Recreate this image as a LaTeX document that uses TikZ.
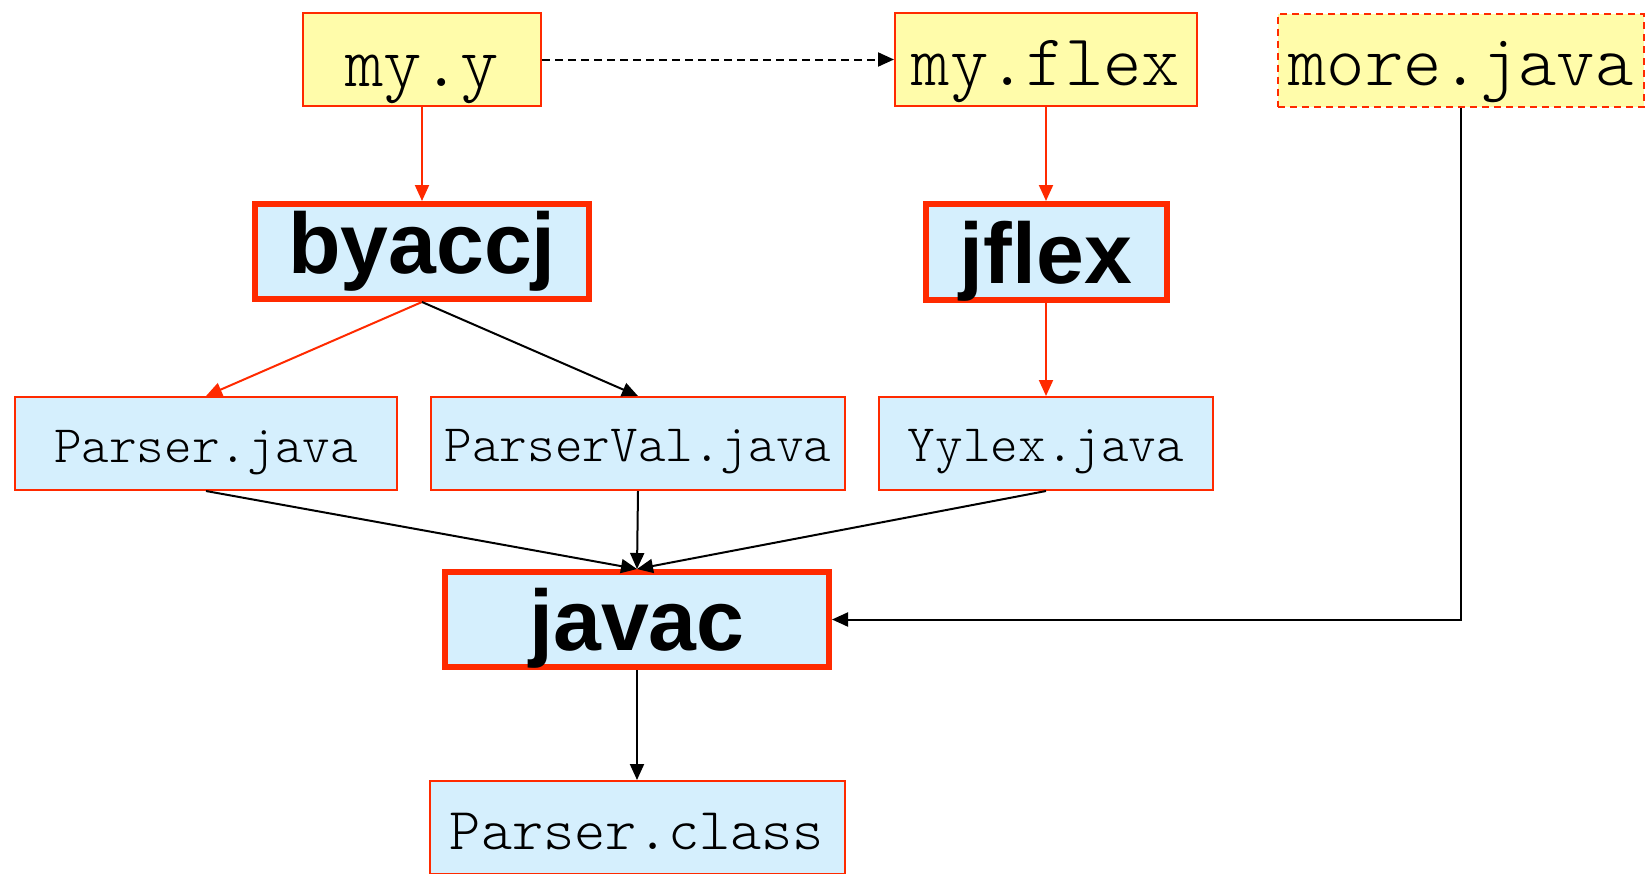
\documentclass[tikz,border=0pt]{standalone}
\usepackage{fontspec}
\usetikzlibrary{arrows.meta}
\newfontfamily\toolfont{Liberation Sans}
\newfontfamily\codefont{Latin Modern Mono Light}
\definecolor{boxred}{HTML}{FF2A00}
\definecolor{srcyellow}{HTML}{FFFCAA}
\definecolor{genblue}{HTML}{D5EFFD}

\begin{document}
\begin{tikzpicture}[x=1pt,y=-1pt,
  srcbox/.style={draw=boxred, fill=srcyellow, line width=2pt, inner sep=0pt,
    minimum height=93pt, text depth=0pt,
    font=\codefont\fontsize{73}{73}\selectfont},
  genbox/.style={draw=boxred, fill=genblue, line width=2pt, inner sep=0pt,
    minimum height=93pt, text depth=0pt,
    font=\codefont\fontsize{52.6}{52.6}\selectfont},
  toolbox/.style={draw=boxred, fill=genblue, line width=6pt, inner sep=0pt,
    minimum height=95pt, text depth=0pt,
    font=\toolfont\bfseries\fontsize{86}{86}\selectfont},
  link/.style={line width=2pt, -{Triangle[length=16pt,width=14pt]}},
  redlink/.style={link, draw=boxred},
  blacklink/.style={link, draw=black}]
\useasboundingbox (0,0) rectangle (1646,873);

% grammar and scanner sources
\node[srcbox, minimum width=238pt, text height=53pt] (my) at (422,59.5) {my.y};
\node[srcbox, minimum width=302pt, text height=52pt] (myflex) at (1046,59.5) {my.flex};
\node[srcbox, minimum width=366pt, text height=50pt, dash pattern=on 7pt off 5pt] (more) at (1461,60) {more.java};

% generator tools
\node[toolbox, minimum width=334pt, text height=43pt] (byaccj) at (422,251.5) {byaccj};
\node[toolbox, minimum width=241pt, minimum height=96pt, text height=62pt] (jflex) at (1046,252) {jflex};

% generated sources
\node[genbox, minimum width=382pt, text height=37pt] (parser) at (206,443.5) {Parser.java};
\node[genbox, minimum width=414pt, text height=36pt] (parserval) at (638,443.5) {ParserVal.java};
\node[genbox, minimum width=334pt, text height=35pt] (yylex) at (1046,443.5) {Yylex.java};

% compiler and output
\node[toolbox, minimum width=384pt, text height=61pt] (javac) at (637,619.5) {javac};
\node[genbox, minimum width=415pt, text height=43pt,
  font=\codefont\fontsize{59.4}{59.4}\selectfont] (pclass) at (637,827.5) {Parser.class};

% connectors
\draw[blacklink, dash pattern=on 8pt off 5pt] (my) -- (myflex);
\draw[redlink] (my) -- (byaccj);
\draw[redlink] (myflex) -- (jflex);
\draw[redlink] (byaccj.south) -- (parser.north);
\draw[blacklink] (byaccj.south) -- (parserval.north);
\draw[redlink] (jflex) -- (yylex);
\draw[blacklink] (parser.south) -- (javac.north);
\draw[blacklink] (parserval.south) -- (javac.north);
\draw[blacklink] (yylex.south) -- (javac.north);
\draw[blacklink] (more.south) |- (javac.east);
\draw[blacklink] (javac) -- (pclass);
\end{tikzpicture}
\end{document}
